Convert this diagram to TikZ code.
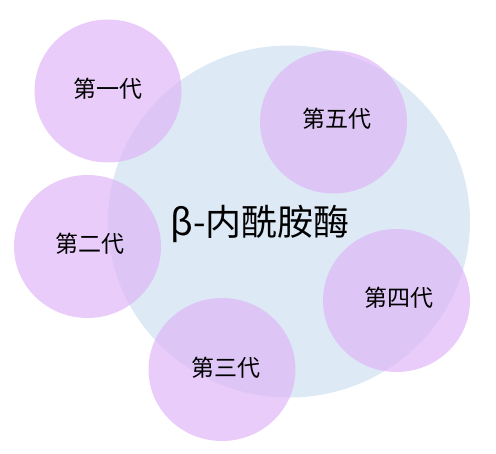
\documentclass[tikz,border=0pt]{standalone}
\usepackage{fontspec}
\setmainfont{Noto Sans CJK SC}
\usetikzlibrary{shapes.geometric}
\definecolor{enzblue}{RGB}{221,233,245}
\definecolor{genpurple}{RGB}{222,180,247}

\begin{document}
\begin{tikzpicture}[x=1pt,y=-1pt]
  \tikzstyle{gen}=[ellipse,fill=genpurple,fill opacity=0.68,text opacity=1,inner sep=0pt,minimum width=147pt,minimum height=143pt,font=\fontsize{23}{27}\selectfont]
  \tikzstyle{genlabel}=[font=\fontsize{23}{27}\selectfont]
  \useasboundingbox (0,0) rectangle (496,454);
  \node[ellipse,fill=enzblue,inner sep=0pt,minimum width=362pt,minimum height=352pt] (enzyme) at (289,221.5) {};
  \node[font=\fontsize{36}{42}\selectfont] (name) at (260,224) {β-内酰胺酶};
  \node[gen] (first) at (108,91) {};
  \node[gen] (fifth) at (333.5,122) {};
  \node[gen] (second) at (87.5,246.5) {};
  \node[gen] (fourth) at (396.5,300.5) {};
  \node[gen] (third) at (222,369.5) {};
  % labels sit a little off the circle centres
  \node[genlabel] (firstlabel) at (108,89) {第一代};
  \node[genlabel] (fifthlabel) at (337,119) {第五代};
  \node[genlabel] (secondlabel) at (90,244) {第二代};
  \node[genlabel] (fourthlabel) at (399,298) {第四代};
  \node[genlabel] (thirdlabel) at (226,368) {第三代};
\end{tikzpicture}
\end{document}
